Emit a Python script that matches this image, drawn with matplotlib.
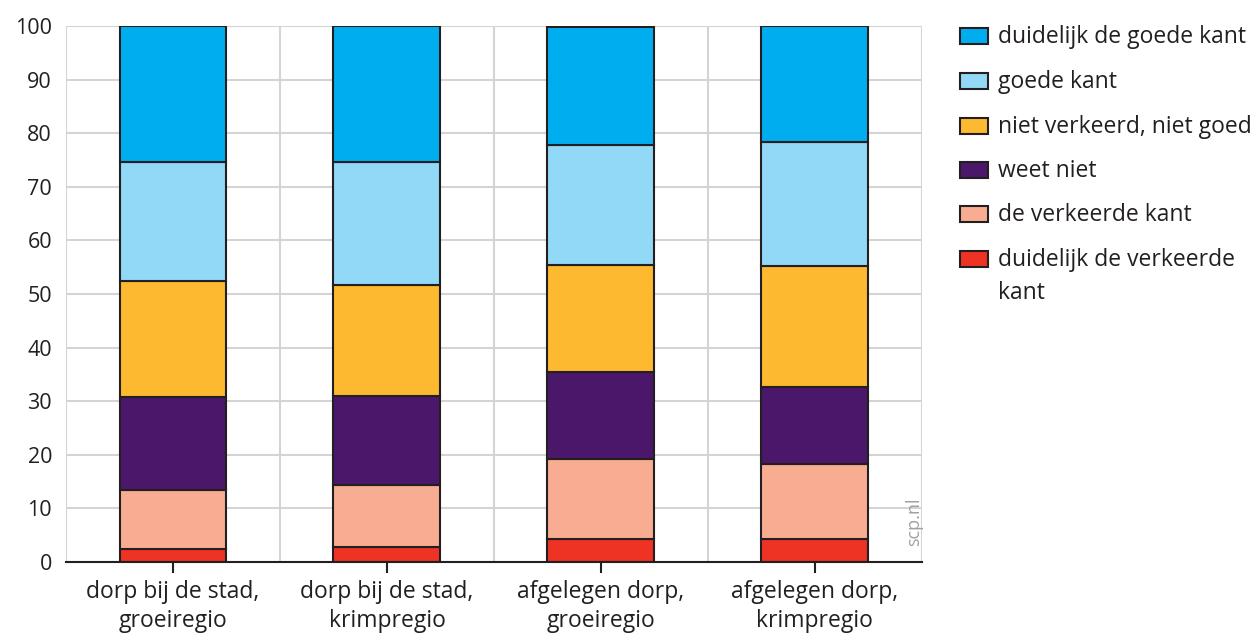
import numpy as np
import matplotlib
matplotlib.use('Agg')
from matplotlib import pyplot as plt
from matplotlib.patches import Rectangle

plt.rcParams['font.family'] = ['Open Sans', 'DejaVu Sans']

categories = ['dorp bij de stad,\ngroeiregio', 'dorp bij de stad,\nkrimpregio',
              'afgelegen dorp,\ngroeiregio', 'afgelegen dorp,\nkrimpregio']

# stacked from bottom to top
labels = ['duidelijk de verkeerde\nkant', 'de verkeerde kant', 'weet niet',
          'niet verkeerd, niet goed', 'goede kant', 'duidelijk de goede kant']
colors = ['#EE3224', '#F8AD92', '#4A176B', '#FDB92F', '#92D9F7', '#00AEEF']

duidelijk_verkeerd = [2.5, 2.7, 4.3, 4.3]
verkeerd = [10.9, 11.7, 14.9, 13.9]
weet_niet = [17.4, 16.6, 16.3, 14.4]
neutraal = [21.6, 20.7, 19.9, 22.6]
goed = [22.2, 22.9, 22.4, 23.2]
duidelijk_goed = [25.4, 25.4, 22.0, 21.6]

series = [duidelijk_verkeerd, verkeerd, weet_niet, neutraal, goed, duidelijk_goed]

fig = plt.figure(figsize=(12.55, 6.36), dpi=100)
ax = fig.add_axes([0.0526, 0.1164, 0.682, 0.8427])

x = np.arange(len(categories))
bottom = np.zeros(len(categories))
for vals, col in zip(series, colors):
    ax.bar(x, vals, width=0.5, bottom=bottom, color=col, edgecolor='#231F20',
           linewidth=1.5, zorder=3)
    bottom += np.array(vals)

ax.set_xlim(-0.5, 3.5)
ax.set_ylim(0, 100)
ax.set_yticks(np.arange(0, 101, 10))
ax.set_xticks(x)
ax.set_xticklabels(categories, fontsize=16.5, color='#231F20', linespacing=1.3)
ax.set_xticks(np.arange(-0.5, 4, 1), minor=True)
ax.tick_params(axis='x', which='major', length=8, width=1.5, color='#231F20', pad=5)
ax.tick_params(axis='x', which='minor', length=0)
ax.tick_params(axis='y', length=0, labelsize=15.5, labelcolor='#231F20', pad=10)

ax.grid(axis='y', color='#D4D4D4', linewidth=1.5, zorder=0)
ax.grid(axis='x', which='minor', color='#D4D4D4', linewidth=1.5, zorder=0)
for s in ['top', 'right', 'left']:
    ax.spines[s].set_visible(False)
ax.spines['bottom'].set_color('#231F20')
ax.spines['bottom'].set_linewidth(1.5)
ax.spines['bottom'].set_zorder(4)

ax.text(0.9905, 0.03, 'scp.nl', transform=ax.transAxes, rotation=90,
        fontsize=13, color='#A0A0A0', ha='center', va='bottom')

# legend, top entry first
W, H = 1255, 636
row_y = [36, 81, 126, 170, 214, 259]
for i, (lab, col) in enumerate(zip(labels[::-1], colors[::-1])):
    cy = row_y[i]
    fig.add_artist(Rectangle((960 / W, 1 - (cy + 8) / H), 28 / W, 16 / H,
                             transform=fig.transFigure, facecolor=col,
                             edgecolor='#231F20', linewidth=1.5))
    fig.text(998 / W, 1 - (cy - 11) / H, lab, fontsize=16.5, color='#231F20',
             ha='left', va='top', linespacing=1.5)

fig.savefig('out.png', dpi=100)
